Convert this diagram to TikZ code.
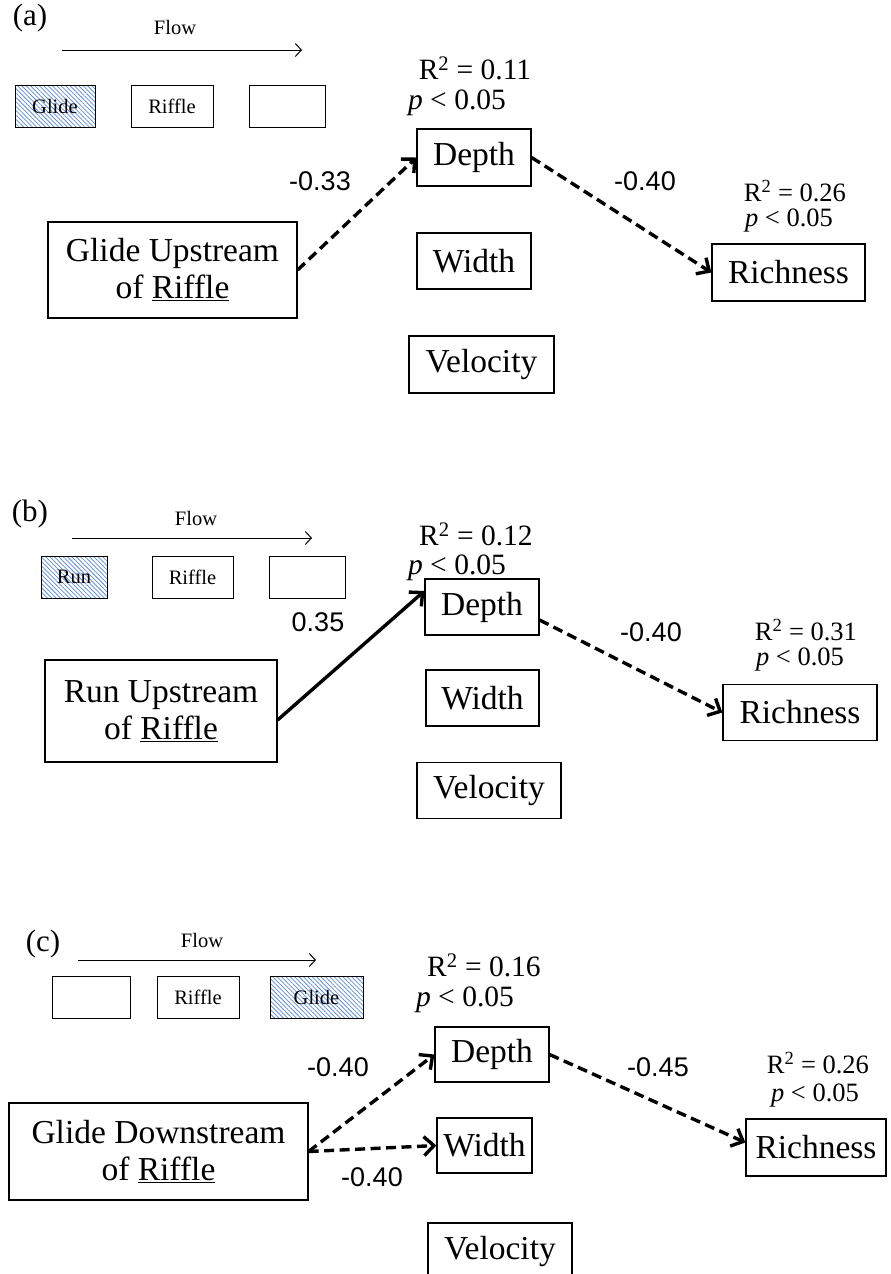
\documentclass[tikz,border=0pt]{standalone}
\usepackage{fontspec}
\setmainfont{Liberation Serif}
\newfontfamily\arialf{Liberation Sans}
\usetikzlibrary{arrows.meta,patterns.meta}
\definecolor{hatchblue}{RGB}{95,140,210}
\tikzset{
  box/.style={draw, line width=1.2pt, inner sep=0pt, align=center, font=\fontsize{33.5}{37}\selectfont},
  sbox/.style={draw, line width=1pt, inner sep=0pt, minimum height=42pt, font=\fontsize{20.5}{24}\selectfont},
  hbox/.style={sbox, pattern={Lines[angle=-45,distance=3.1pt,line width=0.75pt]}, pattern color=hatchblue},
  num/.style={font=\arialf\fontsize{27}{30}\selectfont},
  statbig/.style={font=\fontsize{29.5}{32}\selectfont},
  statsm/.style={font=\fontsize{26.5}{28}\selectfont},
  flowtxt/.style={font=\fontsize{20.5}{24}\selectfont},
  panel/.style={font=\fontsize{31}{34}\selectfont},
  arr/.style={line width=3.4pt, -{Straight Barb[length=10pt,width=19pt]}},
  dsh/.style={dash pattern=on 10pt off 5.5pt},
  flowarr/.style={line width=1pt, -{Straight Barb[length=6pt,width=13pt]}}
}
\begin{document}
\begin{tikzpicture}[x=1pt,y=-1pt]
\useasboundingbox (0,0) rectangle (891,1274);
% ---------------- (a)
\node[panel] (pa) at (30,18) {(a)};
\node[flowtxt] (fa) at (175,27) {Flow};
\coordinate (fa1) at (62,50); \coordinate (fa2) at (302,50);
\draw[flowarr] (fa1) -- (fa2);
\node[hbox, minimum width=80pt] (gla) at (55,106) {Glide};
\node[sbox, minimum width=82pt] (rfa) at (172,106) {Riffle};
\node[sbox, minimum width=76pt] (ema) at (287,106) {};
\node[statbig] (ra) at (475,68) {R\textsuperscript{2} = 0.11};
\node[statbig] (pva) at (457,103) {\textit{p} < 0.05};
\node[box, minimum width=114pt, minimum height=57pt] (depa) at (474,157.5) {Depth};
\node[box, minimum width=249pt, minimum height=96pt] (gua) at (172.5,270) {Glide Upstream\\of \underline{Riffle}};
\node[box, minimum width=114pt, minimum height=56pt] (wida) at (474,261) {Width};
\node[box, minimum width=145pt, minimum height=57pt] (vela) at (481.5,364.5) {Velocity};
\node[box, minimum width=153pt, minimum height=57pt] (richa) at (788.5,272.5) {Richness};
\node[statsm] (rra) at (795,191) {R\textsuperscript{2} = 0.26};
\node[statsm] (pra) at (789,221) {\textit{p} < 0.05};
\node[num] (na1) at (320,181) {-0.33};
\node[num] (na2) at (645,181) {-0.40};
\draw[arr,dsh] (gua.east) -- (depa.west);
\draw[arr,dsh] (depa.east) -- (richa.west);
% ---------------- (b)
\node[panel] (pb) at (30,514) {(b)};
\node[flowtxt] (fb) at (196,518) {Flow};
\coordinate (fb1) at (72,538); \coordinate (fb2) at (312,538);
\draw[flowarr] (fb1) -- (fb2);
\node[hbox, minimum width=66pt] (rnb) at (74,577) {Run};
\node[sbox, minimum width=81pt] (rfb) at (192.5,577) {Riffle};
\node[sbox, minimum width=76pt] (emb) at (307,577) {};
\node[num] (nb1) at (318,622) {0.35};
\node[statbig] (rb) at (476,534) {R\textsuperscript{2} = 0.12};
\node[statbig] (pvb) at (457,568) {\textit{p} < 0.05};
\node[box, minimum width=114pt, minimum height=56pt] (depb) at (482,607) {Depth};
\node[box, minimum width=232pt, minimum height=102pt] (rub) at (161,711) {Run Upstream\\of \underline{Riffle}};
\node[box, minimum width=113pt, minimum height=56pt] (widb) at (482.5,698) {Width};
\node[box, minimum width=144pt, minimum height=56pt] (velb) at (489,790.5) {Velocity};
\node[box, minimum width=154pt, minimum height=56pt] (richb) at (800,712.5) {Richness};
\node[statsm] (rrb) at (806,630) {R\textsuperscript{2} = 0.31};
\node[statsm] (prb) at (800,660) {\textit{p} < 0.05};
\node[num] (nb2) at (651,632) {-0.40};
\draw[arr] ([yshift=-9pt]rub.east) -- ([yshift=16pt]depb.west);
\draw[arr,dsh] ([yshift=-13pt]depb.east) -- (richb.west);
% ---------------- (c)
\node[panel] (pc) at (43,944) {(c)};
\node[flowtxt] (fc) at (202,940) {Flow};
\coordinate (fc1) at (78,960); \coordinate (fc2) at (316,960);
\draw[flowarr] (fc1) -- (fc2);
\node[sbox, minimum width=78pt] (emc) at (91,997.5) {};
\node[sbox, minimum width=82pt] (rfc) at (198,997) {Riffle};
\node[hbox, minimum width=93pt] (glc) at (316.5,997) {Glide};
\node[statbig] (rc) at (484,965) {R\textsuperscript{2} = 0.16};
\node[statbig] (pvc) at (465,1000) {\textit{p} < 0.05};
\node[box, minimum width=114pt, minimum height=55pt] (depc) at (492,1054.5) {Depth};
\node[box, minimum width=299pt, minimum height=97pt] (gdc) at (158.5,1151.5) {Glide Downstream\\of \underline{Riffle}};
\node[box, minimum width=95pt, minimum height=55pt] (widc) at (484.5,1145.5) {Width};
\node[box, minimum width=144pt, minimum height=57pt] (velc) at (500,1251.5) {Velocity};
\node[box, minimum width=140pt, minimum height=57pt] (richc) at (816,1147.5) {Richness};
\node[statsm] (rrc) at (818,1063) {R\textsuperscript{2} = 0.26};
\node[statsm] (prc) at (815,1095) {\textit{p} < 0.05};
\node[num] (nc1) at (338,1067) {-0.40};
\node[num] (nc2) at (372,1177) {-0.40};
\node[num] (nc3) at (658,1067) {-0.45};
\draw[arr,dsh] (gdc.east) -- (depc.west);
\draw[arr,dsh] (gdc.east) -- (widc.west);
\draw[arr,dsh] (depc.east) -- ([yshift=5pt]richc.west);
\end{tikzpicture}
\end{document}
